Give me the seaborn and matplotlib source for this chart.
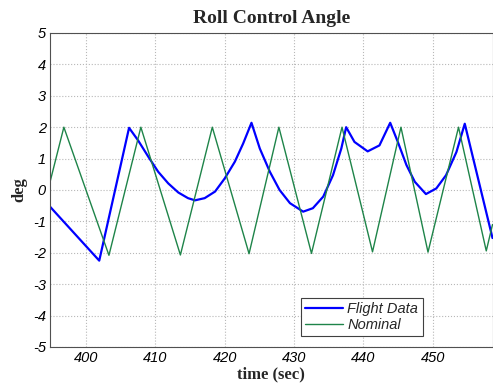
import matplotlib
matplotlib.use("Agg")
import matplotlib.pyplot as plt
import seaborn as sns
import pandas as pd

# Flight data (blue)
flight_t = [394.8, 401.9, 406.2, 407.5, 409.0, 410.4, 411.85, 413.3, 414.7, 415.7,
            417.1, 418.6, 420.0, 421.45, 422.65, 423.85, 425.05, 426.5, 427.9, 429.4,
            431.3, 432.7, 434.2, 435.6, 436.8, 437.5, 438.7, 440.6, 442.3, 443.85,
            444.95, 446.2, 447.4, 449.0, 450.5, 451.9, 453.4, 454.6, 458.6]
flight_v = [-0.53, -2.25, 1.98, 1.58, 1.05, 0.58, 0.21, -0.08, -0.26, -0.33,
            -0.26, -0.05, 0.37, 0.90, 1.48, 2.14, 1.32, 0.58, 0.0, -0.42,
            -0.69, -0.58, -0.21, 0.47, 1.32, 2.0, 1.53, 1.23, 1.42, 2.14,
            1.53, 0.79, 0.26, -0.13, 0.05, 0.47, 1.21, 2.11, -1.53]

# Nominal (green)
nominal_t = [394.8, 396.8, 403.3, 407.9, 413.6, 418.2, 423.5, 427.8, 432.5,
             436.9, 441.3, 445.4, 449.3, 453.7, 457.7, 458.6]
nominal_v = [0.25, 2.0, -2.08, 2.0, -2.07, 2.0, -2.03, 2.0, -2.02,
             2.0, -1.97, 2.0, -1.98, 2.0, -1.94, -1.1]

x_ticks = [400, 410, 420, 430, 440, 450]
y_ticks = [-5, -4, -3, -2, -1, 0, 1, 2, 3, 4, 5]

sns.set_style("whitegrid", {"grid.linestyle": ":", "grid.color": "#b0b0b0",
                            "axes.edgecolor": "#404040"})

fig = plt.figure(figsize=(4.93, 3.84), dpi=100)
ax = fig.add_axes([0.1014, 0.0964, 0.8976, 0.8177])

df_f = pd.DataFrame({"t": flight_t, "v": flight_v})
df_n = pd.DataFrame({"t": nominal_t, "v": nominal_v})

sns.lineplot(data=df_f, x="t", y="v", ax=ax, color="#0000ff", linewidth=1.6,
             label="Flight Data", sort=False, estimator=None)
sns.lineplot(data=df_n, x="t", y="v", ax=ax, color="#1e8449", linewidth=1.0,
             label="Nominal", sort=False, estimator=None)

ax.set_xlim(394.8, 458.6)
ax.set_ylim(-5, 5)
ax.set_xticks(x_ticks)
ax.set_yticks(y_ticks)
ax.set_xticklabels([str(v) for v in x_ticks], fontstyle="italic",
                   fontfamily="Liberation Sans", fontsize=10.5)
ax.set_yticklabels([str(v) for v in y_ticks], fontstyle="italic",
                   fontfamily="Liberation Sans", fontsize=10.5)
ax.tick_params(axis="both", length=0, pad=3, colors="black")
for s in ax.spines.values():
    s.set_linewidth(0.8)
    s.set_color("#505050")
ax.grid(True, linestyle=":", color="#b8b8b8", linewidth=0.8)

ax.set_title("Roll Control Angle", fontfamily="Liberation Serif",
             fontweight="bold", fontsize=14, pad=7)
ax.set_xlabel("time (sec)", fontfamily="Liberation Serif", fontweight="bold",
              fontsize=12, labelpad=1)
ax.set_ylabel("deg", fontfamily="Liberation Serif", fontweight="bold",
              fontsize=12, labelpad=4)

leg = ax.legend(loc="lower right", bbox_to_anchor=(0.842, 0.035),
                prop={"family": "Liberation Sans", "style": "italic", "size": 10.5},
                frameon=True, fancybox=False, framealpha=1, edgecolor="#404040",
                handlelength=2.6, handletextpad=0.3, borderpad=0.3,
                labelspacing=0.1, borderaxespad=0)
leg.get_frame().set_linewidth(0.8)

fig.savefig("out.png", dpi=100)
